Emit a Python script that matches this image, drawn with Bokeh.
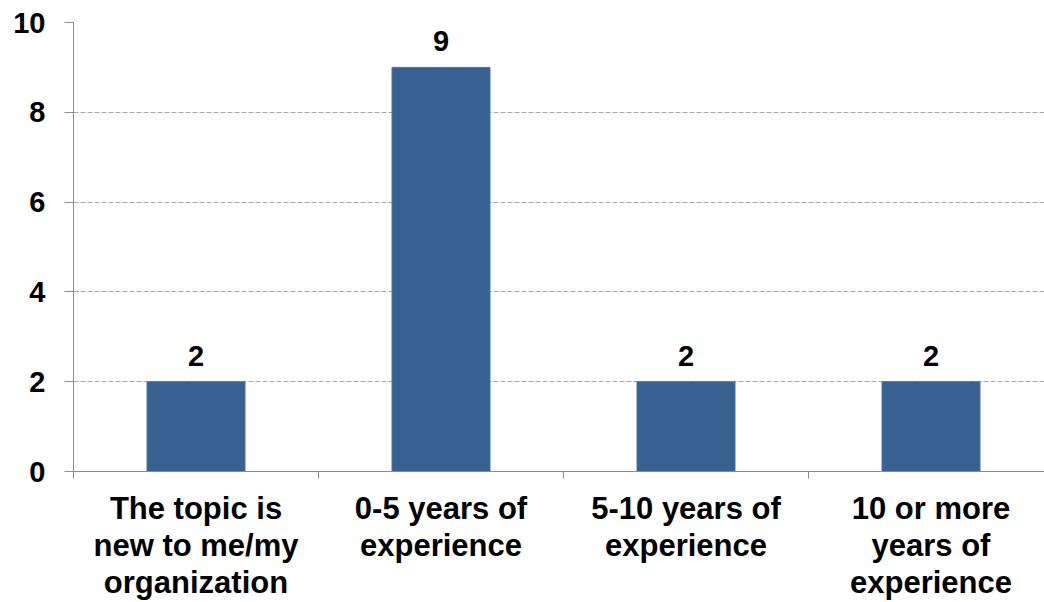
from bokeh.plotting import figure
from bokeh.models import Range1d, FixedTicker, LinearAxis, ColumnDataSource
from bokeh.core.properties import value
from bokeh.embed import file_html
from bokeh.resources import INLINE

categories = ["The topic is new to me/my organization", "0-5 years of experience",
              "5-10 years of experience", "10 or more years of experience"]
# wrapped lines of each category label
category_lines = [["The topic is", "new to me/my", "organization"],
                  ["0-5 years of", "experience"],
                  ["5-10 years of", "experience"],
                  ["10 or more", "years of", "experience"]]
counts = [2, 9, 2, 2]
y_ticks = [0, 2, 4, 6, 8, 10]

FONT = "Liberation Sans"
BAR_COLOR = "#386090"
GRAY = "#8c8c8c"

xs = [i + 0.5 for i in range(len(categories))]
src = ColumnDataSource(dict(x=xs, y=counts, lbl=[str(c) for c in counts]))

W, H = 1044, 602
LEFT, TOP = 73, 22
BOTTOM = H - TOP - 450
cat_px = 245.0
x_end = (W - LEFT) / cat_px

p = figure(width=W, height=H, output_backend="svg", toolbar_location=None,
           x_range=Range1d(0, x_end), y_range=Range1d(0, 10),
           min_border_left=LEFT, min_border_right=0, min_border_top=TOP,
           min_border_bottom=BOTTOM)
p.outline_line_color = None
p.background_fill_color = "white"
p.border_fill_color = "white"

p.vbar(x="x", top="y", width=0.4, source=src, fill_color=BAR_COLOR,
       line_color="#4a72a4", line_width=1)
p.text(x="x", y="y", text="lbl", source=src, text_align="center",
       text_baseline="alphabetic", y_offset=-26, text_font=value(FONT),
       text_font_style="bold", text_font_size="29px", text_color="black")

# grid
p.xgrid.visible = False
p.ygrid.ticker = FixedTicker(ticks=y_ticks[1:])
p.ygrid.grid_line_color = "#a6a6a6"
p.ygrid.grid_line_dash = "5 2"
p.ygrid.grid_line_width = 1

# y axis
ya = p.yaxis[0]
ya.ticker = FixedTicker(ticks=y_ticks)
ya.axis_line_color = GRAY
ya.major_tick_line_color = GRAY
ya.major_tick_out = 9
ya.major_tick_in = 0
ya.minor_tick_line_color = None
ya.major_label_standoff = 19
ya.major_label_text_font = FONT
ya.major_label_text_font_style = "bold"
ya.major_label_text_font_size = "29px"
ya.major_label_text_color = "black"


def style_label_axis(ax, standoff):
    ax.major_label_standoff = standoff
    ax.major_label_text_font = FONT
    ax.major_label_text_font_style = "bold"
    ax.major_label_text_font_size = "31px"
    ax.major_label_text_color = "black"
    ax.major_label_text_align = "center"
    ax.major_tick_out = 0
    ax.major_tick_in = 0
    ax.major_tick_line_color = None


# x axis: first label line at centers, boundary ticks as minor ticks
line1 = {x: lines[0] for x, lines in zip(xs, category_lines)}
xa = p.xaxis[0]
xa.ticker = FixedTicker(ticks=xs, minor_ticks=list(range(len(categories) + 1)))
xa.major_label_overrides = line1
xa.axis_line_color = GRAY
xa.minor_tick_line_color = GRAY
xa.minor_tick_out = 7
xa.minor_tick_in = 0
style_label_axis(xa, 12)

# further label lines, stacked below
for k in (1, 2):
    pts = [x for x, lines in zip(xs, category_lines) if len(lines) > k]
    ax = LinearAxis(ticker=FixedTicker(ticks=pts),
                    major_label_overrides={x: lines[k] for x, lines in zip(xs, category_lines) if len(lines) > k})
    ax.axis_line_color = None
    ax.minor_tick_line_color = None
    style_label_axis(ax, -1)
    p.add_layout(ax, "below")

open("out.html", "w").write(file_html(p, INLINE))
